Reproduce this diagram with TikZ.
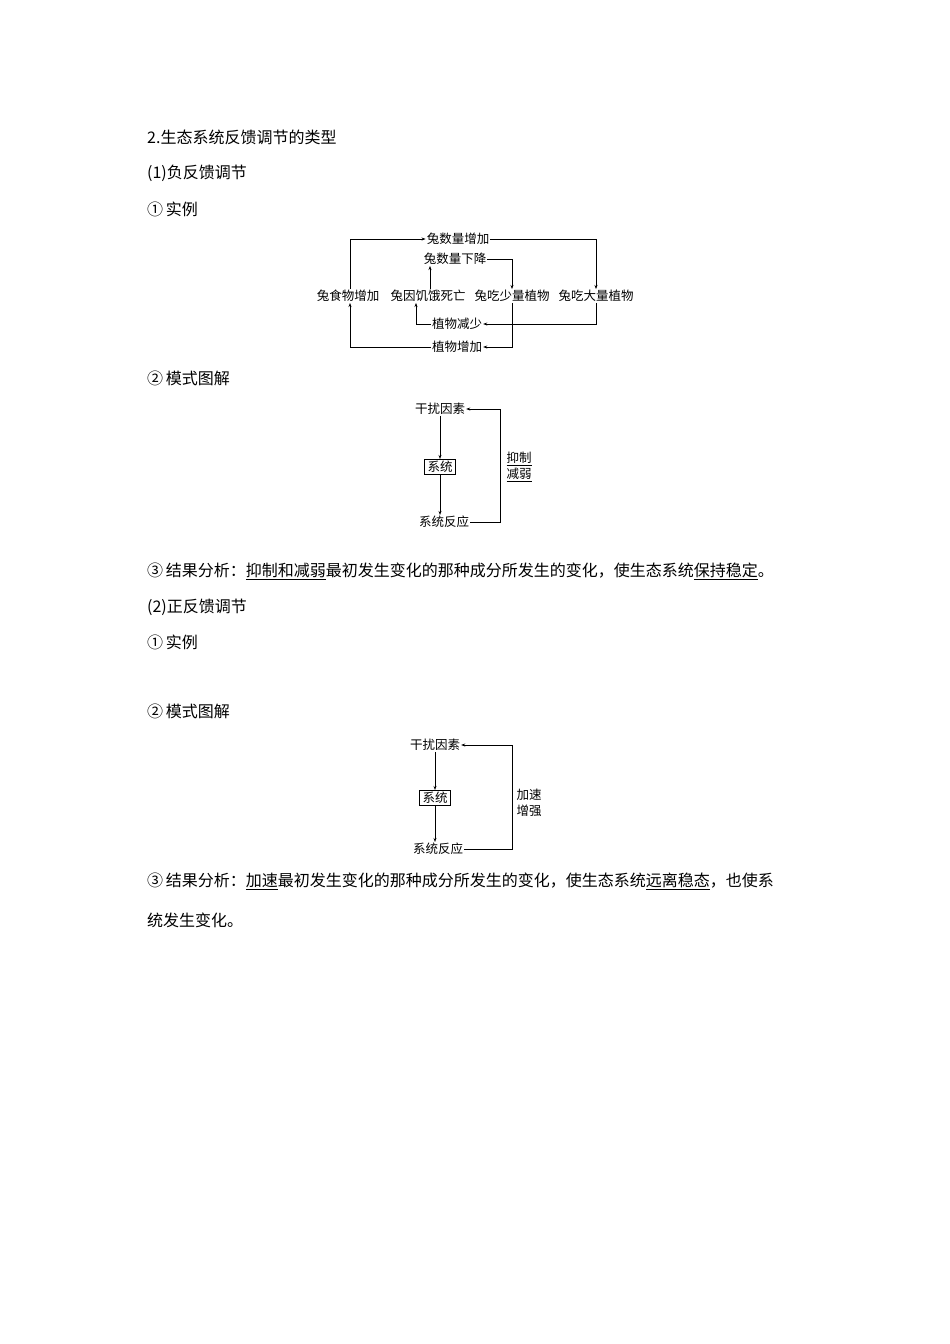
\documentclass[tikz,border=0pt]{standalone}
\usepackage{fontspec}
\setmainfont{Noto Sans CJK SC}
\usetikzlibrary{arrows.meta}
\begin{document}
\begin{tikzpicture}[x=1pt,y=-1pt,
  body/.style={anchor=west,inner sep=0pt,font=\fontsize{16}{19}\selectfont},
  lab/.style={inner sep=1pt,font=\fontsize{12.5}{15}\selectfont},
  ln/.style={line width=0.6pt},
  ar/.style={line width=0.6pt,-{Stealth[length=4pt,width=3pt]}}]
\useasboundingbox (0,0) rectangle (950,1344);
\fill[white] (0,0) rectangle (950,1344);
\node[body] (h1) at (147,137) {2.生态系统反馈调节的类型};
\node[body] (h2) at (147,173) {(1)负反馈调节};
\node[body] (h3) at (147,209) {①\,实例};
\node[body] (h4) at (147,378) {②\,模式图解};
\node[body] (h5) at (147,571) {③\,结果分析：\underline{抑制和减弱}最初发生变化的那种成分所发生的变化，使生态系统\underline{保持稳定}。};
\node[body] (h6) at (147,607) {(2)正反馈调节};
\node[body] (h7) at (147,642) {①\,实例};
\node[body] (h8) at (147,711) {②\,模式图解};
\node[body] (h9) at (147,881) {③\,结果分析：\underline{加速}最初发生变化的那种成分所发生的变化，使生态系统\underline{远离稳态}，也使系};
\node[body] (h10) at (147,920) {统发生变化。};
% diagram 1
\node[lab] (a) at (458,239) {兔数量增加};
\node[lab] (b) at (455,259) {兔数量下降};
\node[lab] (c1) at (348,296) {兔食物增加};
\node[lab] (c2) at (428,296) {兔因饥饿死亡};
\node[lab] (c3) at (512,296) {兔吃少量植物};
\node[lab] (c4) at (596,296) {兔吃大量植物};
\node[lab] (d) at (457,324) {植物减少};
\node[lab] (e) at (457,347) {植物增加};
\draw[ar] (c1.north -| 350,0) |- (a.west);
\draw[ar] (a.east) -| (c4.north);
\draw[ar] (c2.north -| 430,0) -- (b.south -| 430,0);
\draw[ar] (b.east) -| (c3.north);
\draw[ar] (c4.south) |- (d.east);
\draw[ar] (d.west) -| (c2.south -| 416,0);
\draw[ar] (c3.south) |- (e.east);
\draw[ar] (e.west) -| (c1.south -| 350,0);
% diagram 2
\node[lab] (f) at (440,409) {干扰因素};
\node[lab,draw,ln,inner xsep=3pt,inner ysep=2pt] (g) at (440,467) {系统};
\node[lab] (k) at (444,522) {系统反应};
\coordinate (p1) at (500,0);
\draw[ar] (f.south -| g.north) -- (g.north);
\draw[ar] (g.south) -- (k.north -| g.south);
\draw[ar] (k.east) -| (p1 |- f.east) -- (f.east);
\node[lab,align=center] (m) at (519,467) {\underline{抑制}\\[1pt]\underline{减弱}};
% diagram 3
\node[lab] (f2) at (435,745) {干扰因素};
\node[lab,draw,ln,inner xsep=3pt,inner ysep=2pt] (g2) at (435,798) {系统};
\node[lab] (k2) at (438,849) {系统反应};
\coordinate (p2) at (512,0);
\draw[ar] (f2.south -| g2.north) -- (g2.north);
\draw[ar] (g2.south) -- (k2.north -| g2.south);
\draw[ar] (k2.east) -| (p2 |- f2.east) -- (f2.east);
\node[lab,align=center] (m2) at (529,803) {加速\\[1pt]增强};
\end{tikzpicture}
\end{document}
